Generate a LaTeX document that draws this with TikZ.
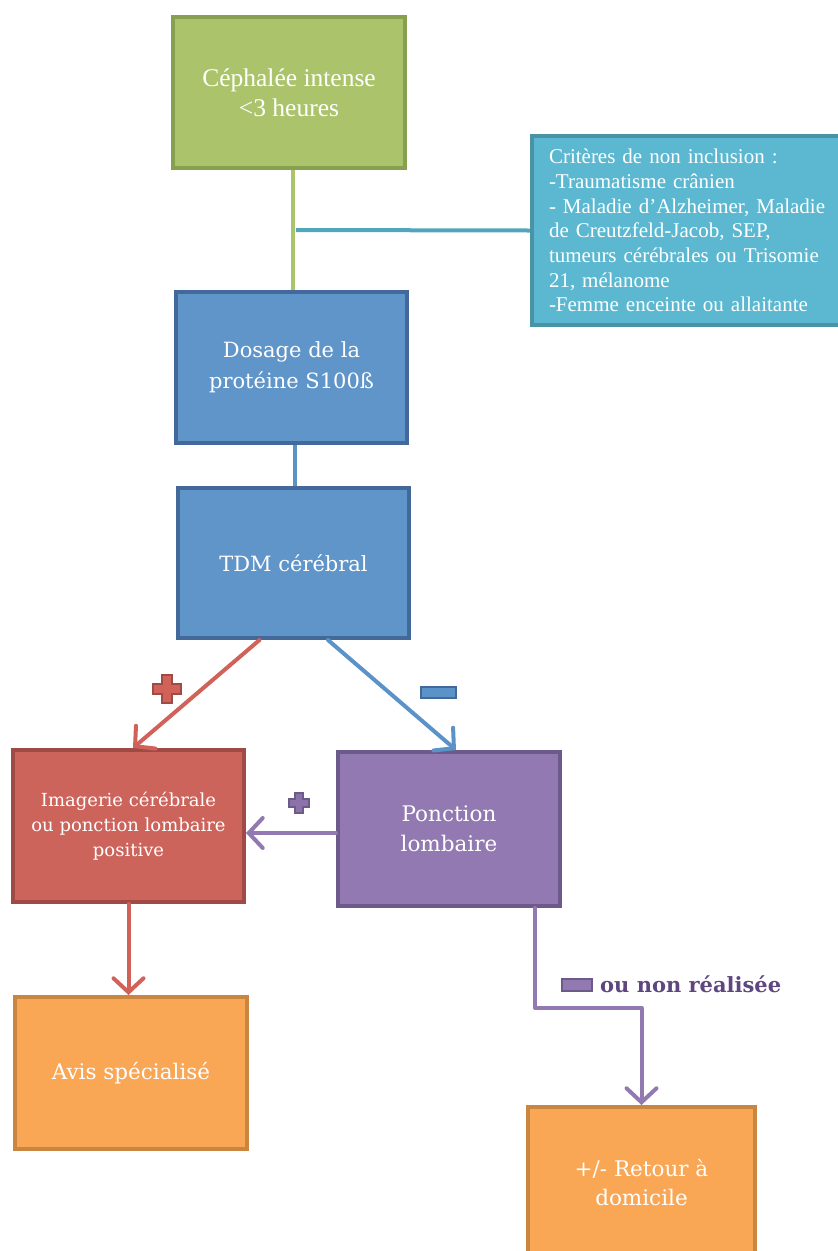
\documentclass[tikz,border=0pt]{standalone}
\usepackage{fontspec}
\newfontfamily\tnr{Liberation Serif}
\newfontfamily\cmb{DejaVu Serif}
\usetikzlibrary{arrows.meta,calc}
\definecolor{gfill}{HTML}{ABC46B}
\definecolor{gdraw}{HTML}{87A04F}
\definecolor{cfill}{HTML}{5BB8D0}
\definecolor{cdraw}{HTML}{4A93A7}
\definecolor{bfill}{HTML}{6095C9}
\definecolor{bdraw}{HTML}{43699A}
\definecolor{rfill}{HTML}{CD645C}
\definecolor{rdraw}{HTML}{9F4A45}
\definecolor{rline}{HTML}{D0625A}
\definecolor{bline}{HTML}{5B93C8}
\definecolor{pfill}{HTML}{9379B2}
\definecolor{pdraw}{HTML}{6C5A8A}
\definecolor{ofill}{HTML}{F9A755}
\definecolor{odraw}{HTML}{C98640}
\definecolor{ptext}{HTML}{5E467F}
\newcommand{\plussign}[6]{%
  \filldraw[fill=#5,draw=#6,line width=2pt,line join=miter]
    ($(#1,#2)+(-#4,-#3)$) -- ++(2*#4,0) -- ++(0,#3-#4) -- ++(#3-#4,0) -- ++(0,2*#4)
    -- ++(-#3+#4,0) -- ++(0,#3-#4) -- ++(-2*#4,0) -- ++(0,-#3+#4) -- ++(-#3+#4,0)
    -- ++(0,-2*#4) -- ++(#3-#4,0) -- cycle;}
\begin{document}
\begin{tikzpicture}[x=1pt,y=-1pt,
  box/.style={draw, line width=4pt, align=center, text=white, inner sep=0pt},
  conn/.style={line width=4pt},
  arr/.style={line width=4pt, -{Straight Barb[length=14pt,width=30pt,line cap=round]}, line cap=round}]
\useasboundingbox (0,0) rectangle (838,1251);
\clip (0,0) rectangle (838,1251);

% nodes
\node[box, fill=gfill, draw=gdraw, minimum width=232pt, minimum height=151pt,
      font=\tnr\fontsize{25.5}{30}\selectfont] (g) at (289,92.5)
  {Céphalée intense\\ <3 heures};
\node[box, fill=cfill, draw=cdraw, minimum width=315pt, minimum height=189pt,
      align=left, text width=283pt, inner xsep=17pt,
      font=\tnr\fontsize{21}{24.7}\selectfont] (crit) at (690.5,230.5)
  {Critères de non inclusion :\\
   -Traumatisme crânien\\
   - Maladie d’Alzheimer, Maladie\\
   de Creutzfeld-Jacob, SEP,\\
   tumeurs cérébrales ou Trisomie\\
   21, mélanome\\
   -Femme enceinte ou allaitante};
\node[box, fill=bfill, draw=bdraw, minimum width=231pt, minimum height=151pt,
      font=\cmb\fontsize{21}{31}\selectfont] (b1) at (291.5,367.5)
  {Dosage de la\\ protéine S100ß};
\node[box, fill=bfill, draw=bdraw, minimum width=231pt, minimum height=150pt,
      font=\cmb\fontsize{21}{31}\selectfont] (b2) at (293.5,563)
  {TDM cérébral};
\node[box, fill=rfill, draw=rdraw, minimum width=231pt, minimum height=152pt,
      font=\cmb\fontsize{18}{25}\selectfont] (r) at (128.5,826)
  {Imagerie cérébrale\\ ou ponction lombaire\\ positive};
\node[box, fill=pfill, draw=pdraw, minimum width=222pt, minimum height=154pt,
      font=\cmb\fontsize{21.5}{30}\selectfont] (p) at (449,829)
  {Ponction\\ lombaire};
\node[box, fill=ofill, draw=odraw, minimum width=232pt, minimum height=152pt,
      font=\cmb\fontsize{21.5}{30}\selectfont] (o1) at (131,1073)
  {Avis spécialisé};
\node[box, fill=ofill, draw=odraw, minimum width=227pt, minimum height=151pt,
      font=\cmb\fontsize{21.5}{29}\selectfont] (o2) at (641.5,1182.5)
  {+/- Retour à\\ domicile};
\node[text=ptext, anchor=base west, inner sep=0pt,
      font=\cmb\fontsize{21}{24}\selectfont\bfseries] (lbl) at (600,992)
  {ou non réalisée};

% connectors
\draw[conn, color=gfill] ([xshift=4pt]g.south) -- ([xshift=4pt]g.south |- b1.north);
\coordinate (c1) at (296,230);
\draw[conn, color=cfill!90!black] (c1) -- (crit.west);
\draw[conn, color=bline] ([xshift=3pt]b1.south) -- ([xshift=3pt]b1.south |- b2.north);
\draw[arr, color=rline] ([xshift=-34pt]b2.south) -- ([xshift=4.5pt]r.north);
\draw[arr, color=bline] ([xshift=34.5pt]b2.south) -- ([xshift=7pt]p.north);
\draw[arr, color=pfill] ([yshift=-4pt]p.west) -- ([yshift=-4pt]p.west -| r.east);
\draw[arr, color=rline] (r.south) -- (r.south |- o1.north);
\draw[arr, color=pfill, line join=round] ([xshift=86pt]p.south) -- ++(0,100) -| (o2.north);

% signs
\plussign{167}{688.5}{14}{5}{rline}{rdraw}
\plussign{298.5}{803}{10}{4}{pfill!80!pdraw}{pdraw}
\draw[fill=bline, draw=bdraw, line width=2pt] (421,687) rectangle (456,698);
\draw[fill=pfill, draw=pdraw, line width=2pt] (562,979) rectangle (592,991);
\end{tikzpicture}
\end{document}
